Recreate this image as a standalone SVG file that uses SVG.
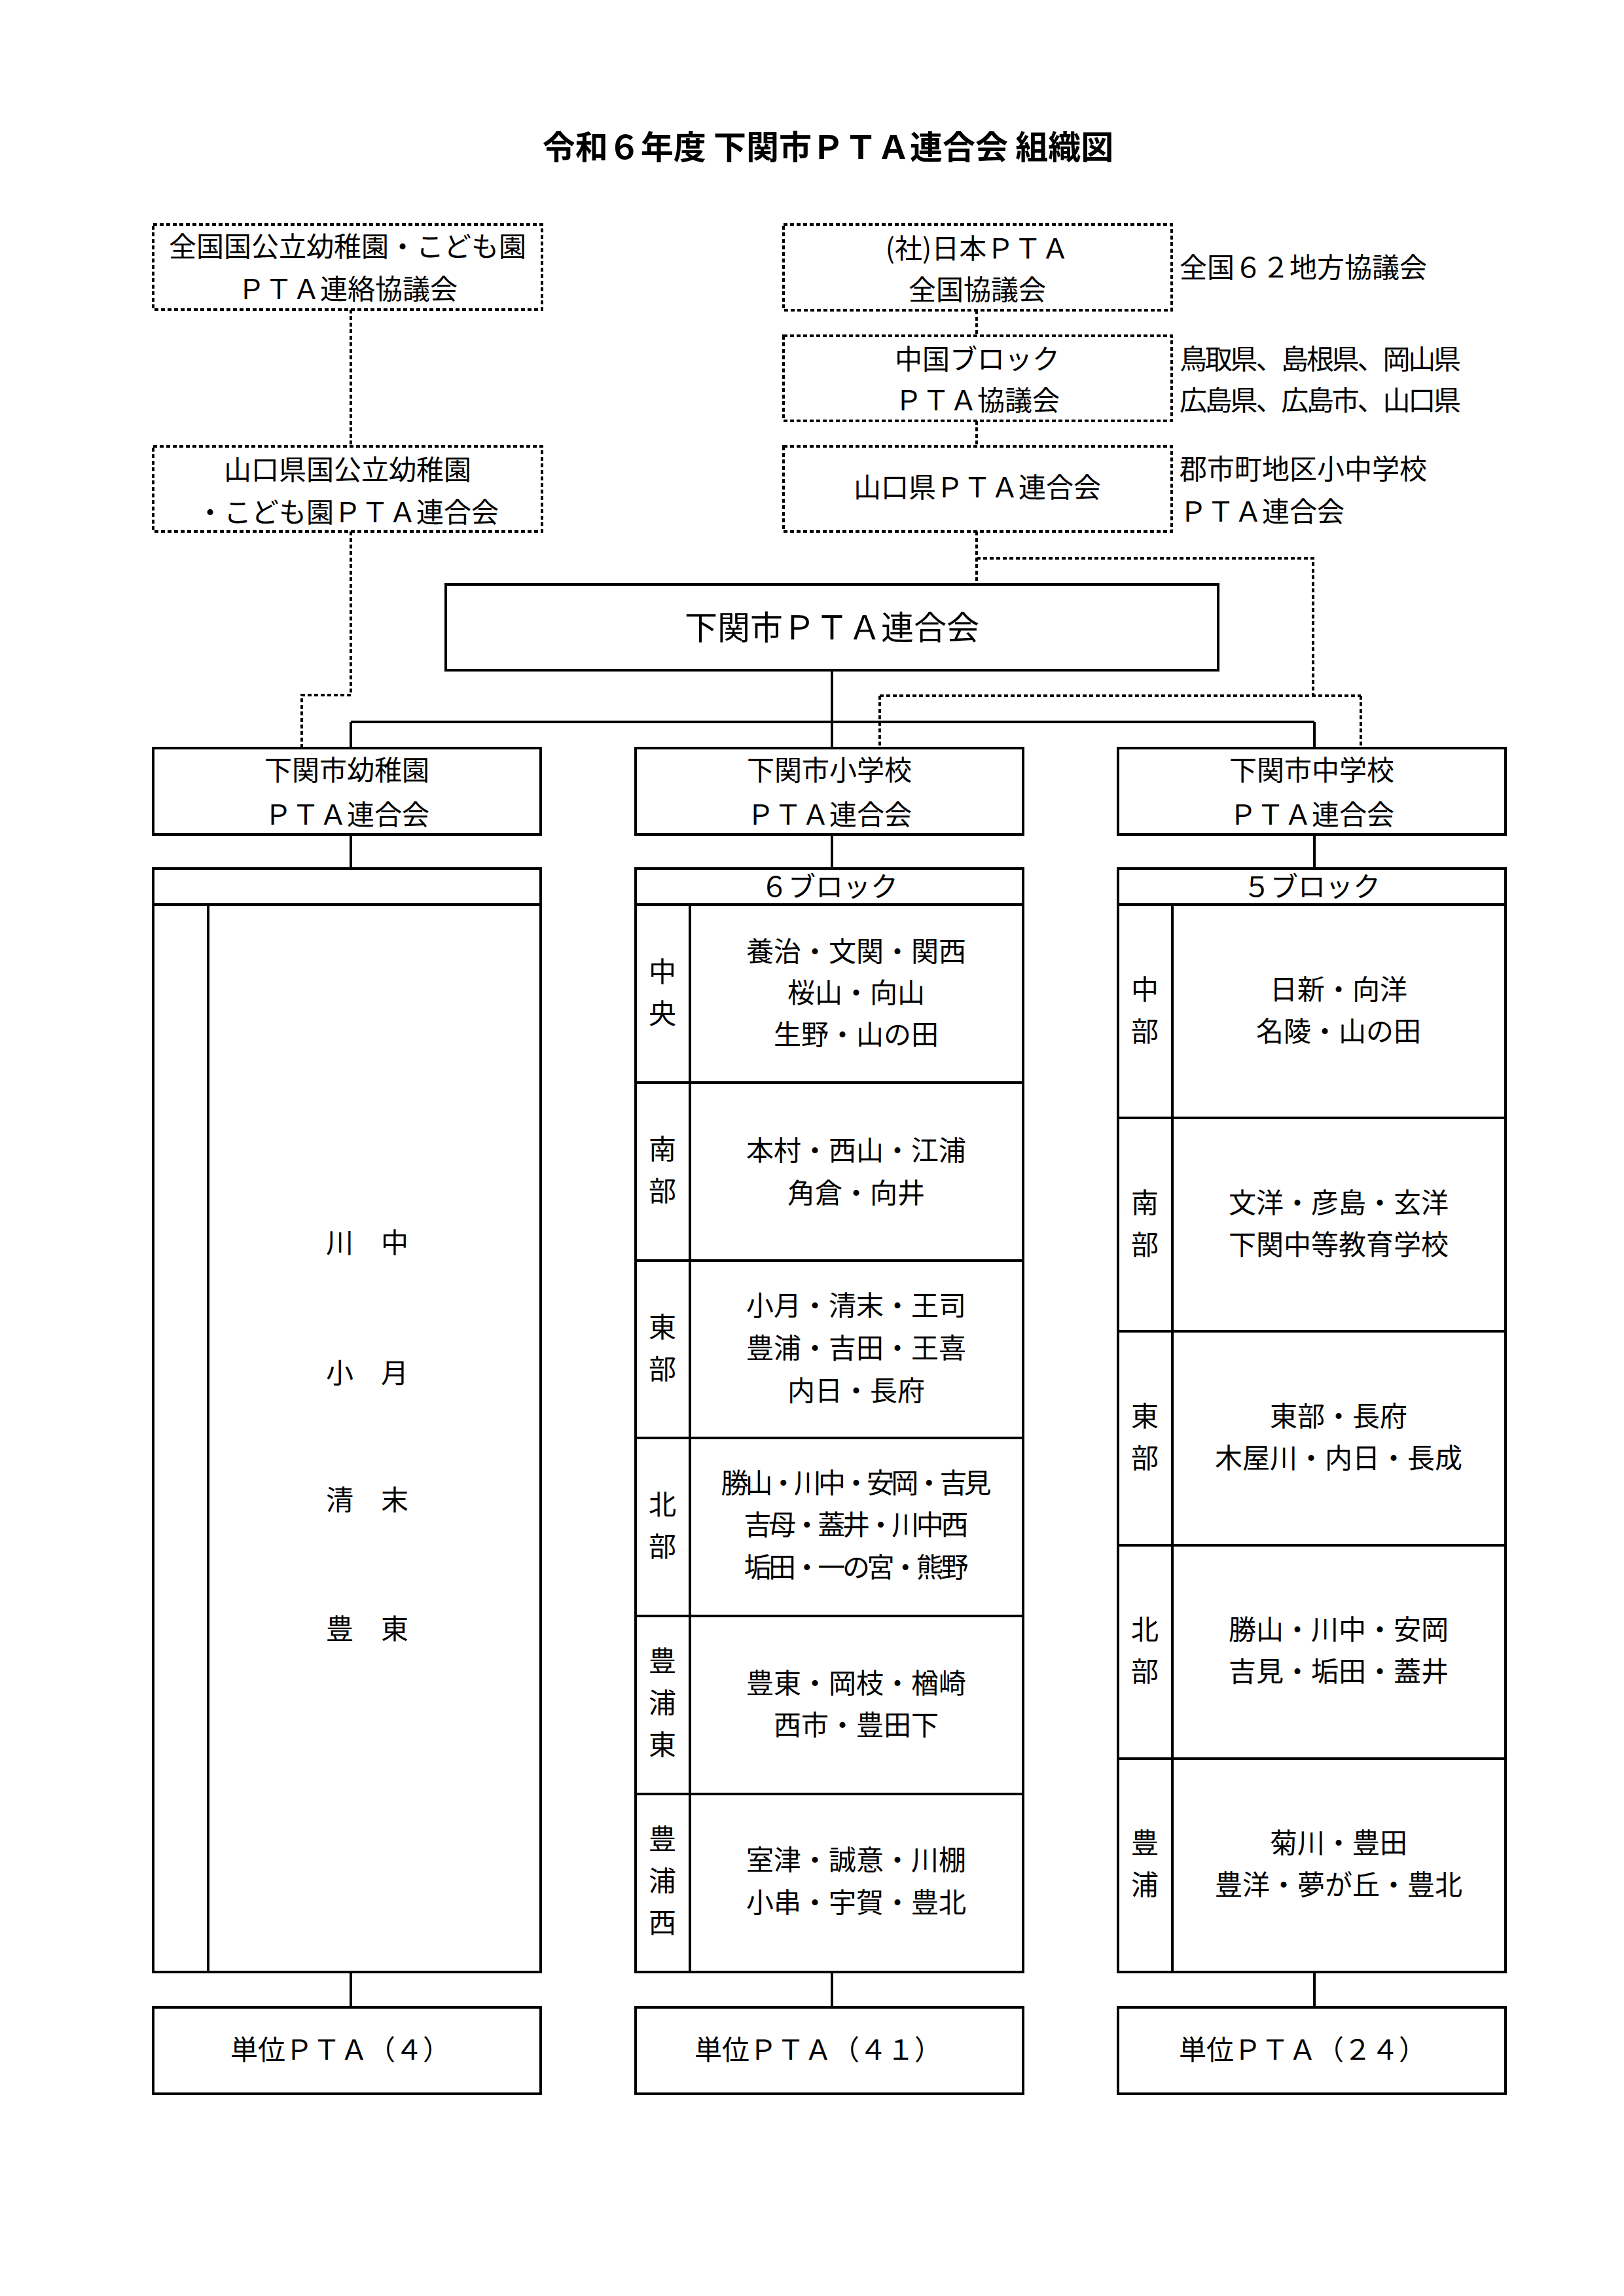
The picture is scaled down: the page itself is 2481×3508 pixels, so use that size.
<svg xmlns="http://www.w3.org/2000/svg" width="2481" height="3508" viewBox="0 0 2481 3508">
<style>
.t{font-family:"Noto Sans CJK JP","Noto Sans CJK SC",sans-serif;font-size:42px;text-anchor:middle;dominant-baseline:central;fill:#000;transform:translate(0px,-5px)}
.l{text-anchor:start}
.title{font-size:50px;font-weight:700}
.big{font-size:50px}
.box{fill:#fff;stroke:#000;stroke-width:4}
.dbox{fill:#fff;stroke:#000;stroke-width:4;stroke-dasharray:6 4}
.ln{fill:none;stroke:#000;stroke-width:4}
.dl{fill:none;stroke:#000;stroke-width:4;stroke-dasharray:6 4}
</style>
<rect width="2481" height="3508" fill="#fff"/>
<text class="t title" x="1265" y="226">令和６年度 下関市ＰＴＡ連合会 組織図</text>

<g id="connectors">
<path class="ln" d="M1271,1024V1143M536,1103H2008M536,1103V1143M2008,1103V1143M536,1275V1327M1271,1275V1327M2008,1275V1327M536,3013V3067M1271,3013V3067M2008,3013V3067"/>
<path class="dl" d="M536,473V682M536,812V1062H461V1143M1492,474V513M1492,643V682M1492,812V893M1492,853H2006V1063M1344,1063H2079M1344,1063V1143M2079,1063V1143"/>
</g>

<g id="zenkoku-youchien">
<rect class="dbox" x="234" y="343" width="594" height="130"/>
<text class="t" x="531" y="378">全国国公立幼稚園・こども園</text>
<text class="t" x="531" y="443">ＰＴＡ連絡協議会</text>
</g>
<g id="yamaguchi-youchien">
<rect class="dbox" x="234" y="682" width="594" height="130"/>
<text class="t" x="531" y="719">山口県国公立幼稚園</text>
<text class="t" x="531" y="784">・こども園ＰＴＡ連合会</text>
</g>
<g id="nihon-pta">
<rect class="dbox" x="1197" y="343" width="593" height="131"/>
<text class="t" x="1493" y="381">(社)日本ＰＴＡ</text>
<text class="t" x="1493" y="444">全国協議会</text>
<text class="t l" x="1802" y="410">全国６２地方協議会</text>
</g>
<g id="chugoku-block">
<rect class="dbox" x="1197" y="513" width="593" height="130"/>
<text class="t" x="1493" y="550">中国ブロック</text>
<text class="t" x="1493" y="613">ＰＴＡ協議会</text>
<text class="t l" x="1802" y="550" textLength="430" lengthAdjust="spacing">鳥取県、島根県、岡山県</text>
<text class="t l" x="1802" y="613" textLength="430" lengthAdjust="spacing">広島県、広島市、山口県</text>
</g>
<g id="yamaguchi-pta">
<rect class="dbox" x="1197" y="682" width="593" height="130"/>
<text class="t" x="1493" y="746">山口県ＰＴＡ連合会</text>
<text class="t l" x="1802" y="718">郡市町地区小中学校</text>
<text class="t l" x="1802" y="783">ＰＴＡ連合会</text>
</g>
<g id="shimonoseki-pta">
<rect class="box" x="681" y="893" width="1180" height="131"/>
<text class="t big" x="1271" y="960">下関市ＰＴＡ連合会</text>
</g>

<g id="youchien-rengo">
<rect class="box" x="234" y="1143" width="592" height="132"/>
<text class="t" x="530" y="1178">下関市幼稚園</text>
<text class="t" x="530" y="1246">ＰＴＡ連合会</text>
</g>
<g id="shougakkou-rengo">
<rect class="box" x="971" y="1143" width="592" height="132"/>
<text class="t" x="1267" y="1178">下関市小学校</text>
<text class="t" x="1267" y="1246">ＰＴＡ連合会</text>
</g>
<g id="chuugakkou-rengo">
<rect class="box" x="1708" y="1143" width="592" height="132"/>
<text class="t" x="2004" y="1178">下関市中学校</text>
<text class="t" x="2004" y="1246">ＰＴＡ連合会</text>
</g>

<g id="youchien-table">
<rect class="box" x="234" y="1327" width="592" height="1686"/>
<path class="ln" d="M234,1382H826M318,1382V3013"/>
<text class="t" x="561" y="1900">川　中</text>
<text class="t" x="561" y="2099">小　月</text>
<text class="t" x="561" y="2293">清　末</text>
<text class="t" x="561" y="2490">豊　東</text>
</g>

<g id="shougakkou-table">
<rect class="box" x="971" y="1327" width="592" height="1686"/>
<path class="ln" d="M971,1382H1563M1054,1382V3013M971,1654H1563M971,1926H1563M971,2197H1563M971,2469H1563M971,2741H1563"/>
<text class="t" x="1267" y="1356">６ブロック</text>
<text class="t" x="1012" y="1486">中</text><text class="t" x="1012" y="1550">央</text>
<text class="t" x="1308" y="1455">養治・文関・関西</text>
<text class="t" x="1308" y="1518">桜山・向山</text>
<text class="t" x="1308" y="1582">生野・山の田</text>
<text class="t" x="1012" y="1757">南</text><text class="t" x="1012" y="1821">部</text>
<text class="t" x="1308" y="1759">本村・西山・江浦</text>
<text class="t" x="1308" y="1824">角倉・向井</text>
<text class="t" x="1012" y="2029">東</text><text class="t" x="1012" y="2093">部</text>
<text class="t" x="1308" y="1996">小月・清末・王司</text>
<text class="t" x="1308" y="2061">豊浦・吉田・王喜</text>
<text class="t" x="1308" y="2126">内日・長府</text>
<text class="t" x="1012" y="2300">北</text><text class="t" x="1012" y="2364">部</text>
<text class="t" x="1308" y="2267" textLength="413" lengthAdjust="spacing">勝山・川中・安岡・吉見</text>
<text class="t" x="1308" y="2331" textLength="343" lengthAdjust="spacing">吉母・蓋井・川中西</text>
<text class="t" x="1308" y="2396" textLength="343" lengthAdjust="spacing">垢田・一の宮・熊野</text>
<text class="t" x="1012" y="2539">豊</text><text class="t" x="1012" y="2603">浦</text><text class="t" x="1012" y="2667">東</text>
<text class="t" x="1308" y="2573">豊東・岡枝・楢崎</text>
<text class="t" x="1308" y="2637">西市・豊田下</text>
<text class="t" x="1012" y="2811">豊</text><text class="t" x="1012" y="2875">浦</text><text class="t" x="1012" y="2939">西</text>
<text class="t" x="1308" y="2843">室津・誠意・川棚</text>
<text class="t" x="1308" y="2908">小串・宇賀・豊北</text>
</g>

<g id="chuugakkou-table">
<rect class="box" x="1708" y="1327" width="592" height="1686"/>
<path class="ln" d="M1708,1382H2300M1791,1382V3013M1708,1708H2300M1708,2034H2300M1708,2361H2300M1708,2687H2300"/>
<text class="t" x="2004" y="1356">５ブロック</text>
<text class="t" x="1749" y="1513">中</text><text class="t" x="1749" y="1577">部</text>
<text class="t" x="2045" y="1513">日新・向洋</text>
<text class="t" x="2045" y="1577">名陵・山の田</text>
<text class="t" x="1749" y="1839">南</text><text class="t" x="1749" y="1903">部</text>
<text class="t" x="2045" y="1839">文洋・彦島・玄洋</text>
<text class="t" x="2045" y="1903">下関中等教育学校</text>
<text class="t" x="1749" y="2165">東</text><text class="t" x="1749" y="2229">部</text>
<text class="t" x="2045" y="2165">東部・長府</text>
<text class="t" x="2045" y="2229">木屋川・内日・長成</text>
<text class="t" x="1749" y="2491">北</text><text class="t" x="1749" y="2555">部</text>
<text class="t" x="2045" y="2491">勝山・川中・安岡</text>
<text class="t" x="2045" y="2555">吉見・垢田・蓋井</text>
<text class="t" x="1749" y="2817">豊</text><text class="t" x="1749" y="2881">浦</text>
<text class="t" x="2045" y="2817">菊川・豊田</text>
<text class="t" x="2045" y="2881">豊洋・夢が丘・豊北</text>
</g>

<g id="tani-youchien">
<rect class="box" x="234" y="3067" width="592" height="132"/>
<text class="t" x="520" y="3133">単位ＰＴＡ（４）</text>
</g>
<g id="tani-shougakkou">
<rect class="box" x="971" y="3067" width="592" height="132"/>
<text class="t" x="1250" y="3133">単位ＰＴＡ（４１）</text>
</g>
<g id="tani-chuugakkou">
<rect class="box" x="1708" y="3067" width="592" height="132"/>
<text class="t" x="1990" y="3133">単位ＰＴＡ（２４）</text>
</g>
</svg>
